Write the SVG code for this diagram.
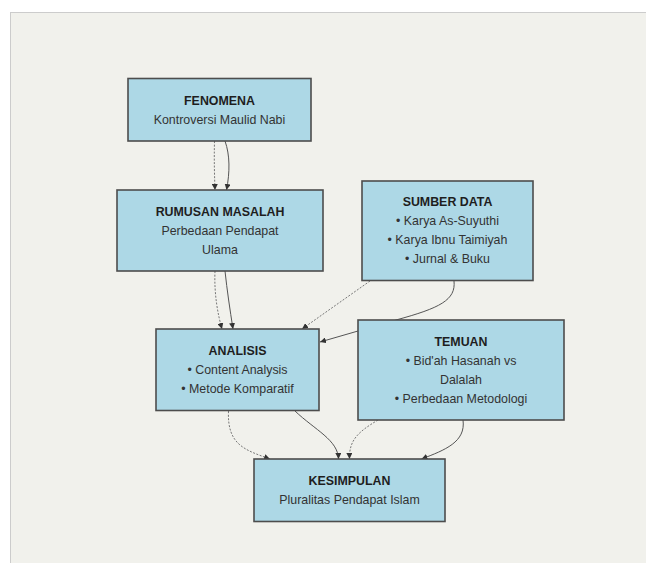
<svg xmlns="http://www.w3.org/2000/svg" width="646" height="563" viewBox="0 0 646 563">
<style>
.bg{fill:#f1f1ec;stroke:#cccccc;stroke-width:1}
.box{fill:#add8e6;stroke:#4d4d4d;stroke-width:1.6}
.t{font-family:"Liberation Sans",Arial,sans-serif;font-size:12.4px;font-weight:bold;fill:#1e1e1e;text-anchor:middle}
.b{font-family:"Liberation Sans",Arial,sans-serif;font-size:12.4px;fill:#333333;text-anchor:middle}
.s{fill:none;stroke:#555555;stroke-width:1}
.d{fill:none;stroke:#777777;stroke-width:1;stroke-dasharray:2 1.5}
</style>
<defs>
<marker id="ah" viewBox="0 0 10 10" refX="10" refY="5" markerWidth="6" markerHeight="6" markerUnits="userSpaceOnUse" orient="auto">
<path d="M0,0 L10,5 L0,10 z" fill="#333333"/>
</marker>
</defs>
<rect class="bg" x="10.5" y="12.5" width="640" height="560"/>
<g id="connectors">
<path class="d" d="M214.5,141 C214,160 214.5,175 215,190" marker-end="url(#ah)"/>
<path class="s" d="M225,141 C230,155 230,172 226.5,190" marker-end="url(#ah)"/>
<path class="d" d="M215,271 C214,295 218,315 222,329" marker-end="url(#ah)"/>
<path class="s" d="M225,271 C227,290 230,310 233,329" marker-end="url(#ah)"/>
<path class="d" d="M370,281 L302,329" marker-end="url(#ah)"/>
<path class="s" d="M454,281 C456,300 440,308 396,320 L320,342" marker-end="url(#ah)"/>
<path class="d" d="M228.5,411 C227,445 245,450 270,459" marker-end="url(#ah)"/>
<path class="s" d="M295,411 C315,430 338,440 338.5,459" marker-end="url(#ah)"/>
<path class="d" d="M378,420 C358,432 349,440 349.5,459" marker-end="url(#ah)"/>
<path class="s" d="M463,420 C466,442 445,450 421.5,459" marker-end="url(#ah)"/>
</g>
<g id="fenomena">
<rect class="box" x="128" y="78.5" width="183" height="62.5"/>
<text class="t" x="219.5" y="104.8">FENOMENA</text>
<text class="b" x="219.5" y="123.8">Kontroversi Maulid Nabi</text>
</g>
<g id="rumusan">
<rect class="box" x="117" y="190" width="206" height="81"/>
<text class="t" x="220" y="216">RUMUSAN MASALAH</text>
<text class="b" x="220" y="235">Perbedaan Pendapat</text>
<text class="b" x="220" y="253.8">Ulama</text>
</g>
<g id="sumber">
<rect class="box" x="362" y="181" width="171" height="99.5"/>
<text class="t" x="447.5" y="206.3">SUMBER DATA</text>
<text class="b" x="447.5" y="225.3">• Karya As-Suyuthi</text>
<text class="b" x="447.5" y="244.3">• Karya Ibnu Taimiyah</text>
<text class="b" x="447.5" y="263.3">• Jurnal &amp; Buku</text>
</g>
<g id="analisis">
<rect class="box" x="156" y="329" width="163" height="81.5"/>
<text class="t" x="237.5" y="355">ANALISIS</text>
<text class="b" x="237.5" y="374.3">• Content Analysis</text>
<text class="b" x="237.5" y="393.3">• Metode Komparatif</text>
</g>
<g id="temuan">
<rect class="box" x="358" y="320" width="206" height="100"/>
<text class="t" x="461" y="345.6">TEMUAN</text>
<text class="b" x="461" y="364.6">• Bid'ah Hasanah vs</text>
<text class="b" x="461" y="383.6">Dalalah</text>
<text class="b" x="461" y="402.6">• Perbedaan Metodologi</text>
</g>
<g id="kesimpulan">
<rect class="box" x="254" y="459" width="191" height="62.5"/>
<text class="t" x="349.5" y="485">KESIMPULAN</text>
<text class="b" x="349.5" y="504">Pluralitas Pendapat Islam</text>
</g>
</svg>
